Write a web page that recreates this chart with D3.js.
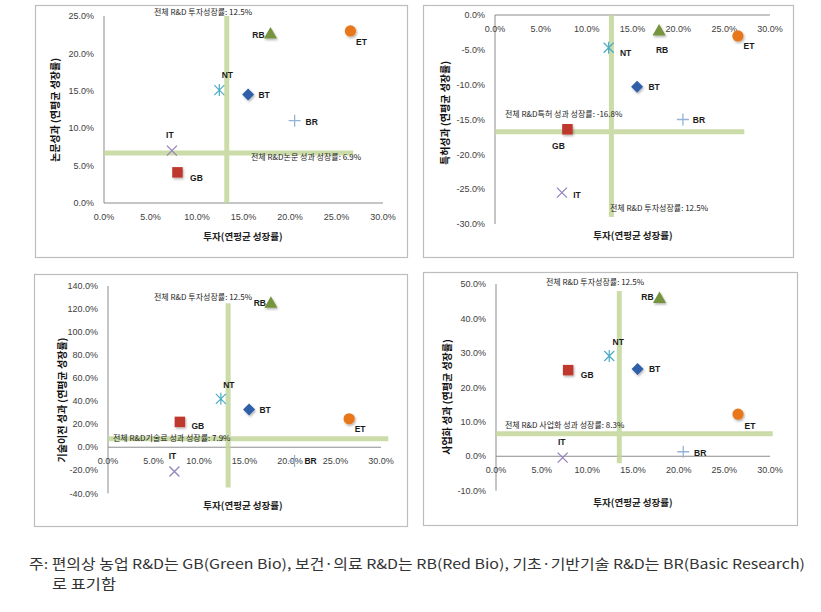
<!DOCTYPE html>
<html><head><meta charset="utf-8">
<script src="https://cdn.jsdelivr.net/npm/d3@7"></script>
<style>
body{margin:0;background:#fff;}
svg{display:block;}
</style></head>
<body><svg id="c" width="821" height="612"></svg>
<script>
// ---- data ----
const categories = ["BT","NT","IT","ET","GB","RB","BR"];
const investGrowth = [15.5, 12.4, 7.3, 26.5, 7.9, 17.9, 20.5];
const paperGrowth = [14.5, 15.1, 7.0, 23.0, 4.1, 22.5, 11.0];
const patentGrowth = [-10.3, -4.7, -25.5, -3.0, -16.4, -2.4, -15.0];
const techTransferGrowth = [32.7, 42.0, -21.1, 24.7, 22.0, 124.5, -12.0];
const commercialGrowth = [25.3, 29.1, -0.4, 12.2, 25.0, 45.6, 1.3];
const xTicks = [0, 5, 10, 15, 20, 25, 30];
const yTicks1 = [0, 5, 10, 15, 20, 25];
const yTicks2 = [0, -5, -10, -15, -20, -25, -30];
const yTicks3 = [-40, -20, 0, 20, 40, 60, 80, 100, 120, 140];
const yTicks4 = [-10, 0, 10, 20, 30, 40, 50];
const yTitles = ["논문성과 (연평균 성장률)", "특허성과 (연평균 성장률)", "기술이전 성과 (연평균 성장률)", "사업화 성과 (연평균 성장률)"];
const xTitle = "투자(연평균 성장률)";
const investRefLabel = "전체 R&D 투자성장률: 12.5%";
const outRefLabels = ["전체 R&D논문 성과 성장률: 6.9%", "전체 R&D특허 성과 성장률: -16.8%", "전체 R&D기술료 성과 성장률: 7.9%", "전체 R&D 사업화 성과 성장률: 8.3%"];
// reference line positions as drawn in the picture
const refLineX = [13.2, 12.7, 13.2, 13.5];
const refLineY = [6.7, -16.75, 7.3, 6.5];
const footnote1 = "주: 편의상 농업 R&D는 GB(Green Bio), 보건·의료 R&D는 RB(Red Bio), 기초·기반기술 R&D는 BR(Basic Research)";
const footnote2 = "로 표기함";

// ---- layout / styles ----
const panels = [
  {vals: paperGrowth, ticks: yTicks1, box:[35,5,407,257], xr:[104,383], yd:[0,25], yr:[203,16],
   yT:[55,110], xT:[243,240], vExt:[0,25], hExt:[0,26.8],
   invLab:[203,15,"middle"], outLab:[251,160,"start"],
   off:{RB:[-12,0],ET:[11,11],NT:[8,-15],BT:[16,0],BR:[17,1],IT:[-2,-16],GB:[19,5]}},
  {vals: patentGrowth, ticks: yTicks2, box:[423,5,793,257], xr:[495,770], yd:[-30,0], yr:[224,15],
   yT:[445,113], xT:[633,239], vExt:[-29,0], hExt:[0,27.2],
   invLab:[610,211,"start"], outLab:[505,117,"start"],
   off:{RB:[3,18],ET:[11,10],NT:[17,5],BT:[17,0],BR:[16,0],IT:[15,2],GB:[-9,16]}},
  {vals: techTransferGrowth, ticks: yTicks3, box:[34,274,407,526], xr:[108,381], yd:[-40,140], yr:[493.3,286],
   yT:[62,400], xT:[243,509], vExt:[-35,125], hExt:[0,30.8],
   invLab:[154,300,"start"], outLab:[113,441,"start"],
   off:{RB:[-11,-1],ET:[11,10],NT:[8,-14],BT:[16,0],BR:[16,0],IT:[-2,-16],GB:[18,4]}},
  {vals: commercialGrowth, ticks: yTicks4, box:[423,272,797,525], xr:[496,770], yd:[-10,50], yr:[490.7,284],
   yT:[447,397], xT:[633,506], vExt:[-2,48], hExt:[0,30.3],
   invLab:[546,285,"start"], outLab:[505,428,"start"],
   off:{RB:[-12,-2],ET:[12,11],NT:[9,-14],BT:[17,0],BR:[17,1],IT:[-1,-16],GB:[19,5]}}
];

const markerStyle = {
  BT:{type:"diamond", fill:"#2d5ea8"},
  NT:{type:"star", stroke:"#4bacc6"},
  IT:{type:"x", stroke:"#9584bd"},
  ET:{type:"circle", fill:"#e8771f"},
  GB:{type:"square", fill:"#bf372d"},
  RB:{type:"triangle", fill:"#76933c"},
  BR:{type:"plus", stroke:"#95b3d7"}
};

const svg = d3.select("#c");
const defs = svg.append("defs");
const f = defs.append("filter").attr("id","sh").attr("x","-50%").attr("y","-50%").attr("width","200%").attr("height","200%");
f.append("feDropShadow").attr("dx",1).attr("dy",1.5).attr("stdDeviation",1).attr("flood-color","#000").attr("flood-opacity",0.3);

const pct = (v, d) => v.toFixed(d) + "%";
const tickFont = "Liberation Sans, Arial, sans-serif";
const krFont = "'Noto Sans CJK KR', 'Noto Sans', sans-serif";

panels.forEach((p, pi) => {
  const g = svg.append("g");
  const [bx0, by0, bx1, by1] = p.box;
  g.append("rect").attr("x", bx0+0.5).attr("y", by0+0.5).attr("width", bx1-bx0).attr("height", by1-by0)
    .attr("fill","#fff").attr("stroke","#bdbdbd").attr("stroke-width",1.2);

  const x = d3.scaleLinear().domain([0,30]).range(p.xr);
  const y = d3.scaleLinear().domain(p.yd).range(p.yr);
  const y0 = y(0);

  // axis lines
  g.append("line").attr("x1", x(0)).attr("x2", x(0)).attr("y1", y(p.yd[1])).attr("y2", y(p.yd[0]))
    .attr("stroke","#8c8c8c").attr("stroke-width",1);
  g.append("line").attr("x1", x(0)).attr("x2", x(30)).attr("y1", y0).attr("y2", y0)
    .attr("stroke","#8c8c8c").attr("stroke-width",1);

  // y ticks
  g.selectAll(".yt").data(p.ticks).enter().append("text")
    .attr("x", x(0) - 10).attr("y", d => y(d) + 3.2)
    .attr("text-anchor","end").attr("font-family",tickFont).attr("font-size",9).attr("fill","#404040")
    .text(d => pct(d,1));
  // x ticks
  g.selectAll(".xt").data(xTicks).enter().append("text")
    .attr("x", d => x(d)).attr("y", y0 + 17)
    .attr("text-anchor","middle").attr("font-family",tickFont).attr("font-size",9).attr("fill","#404040")
    .text(d => pct(d,1));

  // reference lines
  const refG = g.append("g").attr("opacity",0.85);
  refG.append("line").attr("x1", x(refLineX[pi])).attr("x2", x(refLineX[pi]))
    .attr("y1", y(p.vExt[1])).attr("y2", y(p.vExt[0]))
    .attr("stroke","#c3d69b").attr("stroke-width",5);
  refG.append("line").attr("x1", x(p.hExt[0])).attr("x2", x(p.hExt[1]))
    .attr("y1", y(refLineY[pi])).attr("y2", y(refLineY[pi]))
    .attr("stroke","#c3d69b").attr("stroke-width",5);

  // ref labels
  g.append("text").attr("x", p.invLab[0]).attr("y", p.invLab[1]).attr("text-anchor", p.invLab[2])
    .attr("font-family",krFont).attr("font-size",8).attr("fill","#222").text(investRefLabel);
  g.append("text").attr("x", p.outLab[0]).attr("y", p.outLab[1]).attr("text-anchor", p.outLab[2])
    .attr("font-family",krFont).attr("font-size",8).attr("fill","#222").text(outRefLabels[pi]);

  // markers
  categories.forEach((c, i) => {
    const cx = x(investGrowth[i]), cy = y(p.vals[i]);
    const s = markerStyle[c];
    const mg = g.append("g").attr("transform", `translate(${cx},${cy})`);
    if (s.type === "square") {
      mg.append("path").attr("d", d3.symbol(d3.symbolSquare, 110)()).attr("fill", s.fill).attr("filter","url(#sh)");
    } else if (s.type === "circle") {
      mg.append("path").attr("d", d3.symbol(d3.symbolCircle, 100)()).attr("fill", s.fill).attr("filter","url(#sh)");
    } else if (s.type === "triangle") {
      mg.append("path").attr("d", d3.symbol(d3.symbolTriangle, 75)()).attr("fill", s.fill).attr("filter","url(#sh)");
    } else if (s.type === "diamond") {
      mg.append("path").attr("d", "M0,-6L6,0L0,6L-6,0Z").attr("fill", s.fill).attr("filter","url(#sh)");
    } else if (s.type === "plus") {
      mg.append("path").attr("d","M-6,0H6M0,-6V6").attr("stroke", s.stroke).attr("stroke-width",1.3).attr("fill","none");
    } else if (s.type === "x") {
      mg.append("path").attr("d","M-5,-5L5,5M-5,5L5,-5").attr("stroke", s.stroke).attr("stroke-width",1.3).attr("fill","none");
    } else if (s.type === "star") {
      mg.append("path").attr("d","M-5,-5L5,5M-5,5L5,-5M0,-6V6").attr("stroke", s.stroke).attr("stroke-width",1.2).attr("fill","none");
    }
    const o = p.off[c];
    g.append("text").attr("x", cx + o[0]).attr("y", cy + o[1] + 3.3)
      .attr("text-anchor","middle").attr("font-family",tickFont).attr("font-size",8.5)
      .attr("font-weight","bold").attr("fill","#1a1a1a").text(c);
  });

  // axis titles
  g.append("text").attr("x", p.xT[0]).attr("y", p.xT[1]).attr("text-anchor","middle")
    .attr("font-family",krFont).attr("font-size",9.5).attr("font-weight","bold").attr("fill","#222").text(xTitle);
  g.append("text").attr("transform", `translate(${p.yT[0]},${p.yT[1]}) rotate(-90)`).attr("text-anchor","middle")
    .attr("dy","0.35em").attr("font-family",krFont).attr("font-size",10).attr("font-weight","bold").attr("fill","#111")
    .text(yTitles[pi]);
});

// footnote
svg.append("text").attr("x", 29).attr("y", 569).attr("font-family",krFont).attr("font-size",13.5).attr("fill","#333")
  .attr("textLength", 776).attr("lengthAdjust","spacingAndGlyphs").text(footnote1);
svg.append("text").attr("x", 52).attr("y", 589).attr("font-family",krFont).attr("font-size",13.5).attr("fill","#333")
  .attr("textLength", 64).attr("lengthAdjust","spacingAndGlyphs").text(footnote2);
</script>
</body></html>
